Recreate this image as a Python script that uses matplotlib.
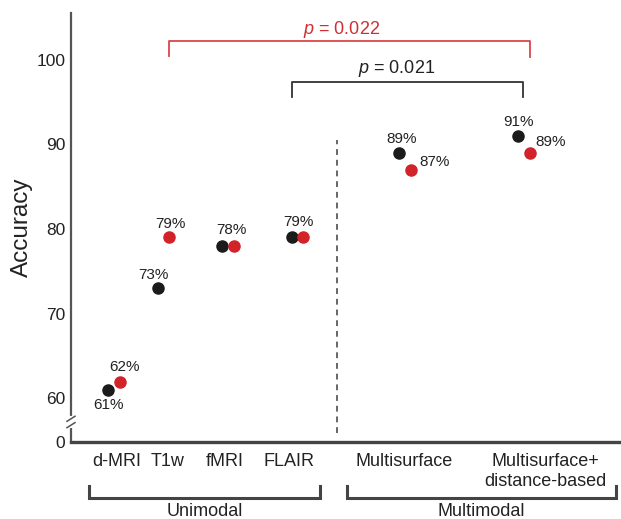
import matplotlib
matplotlib.use("Agg")
import matplotlib.pyplot as plt

plt.rcParams["font.family"] = ["Liberation Sans", "DejaVu Sans"]
plt.rcParams["mathtext.fontset"] = "custom"
plt.rcParams["mathtext.it"] = "Liberation Sans:italic"
plt.rcParams["mathtext.rm"] = "Liberation Sans"

# data
methods = ["d-MRI", "T1w", "fMRI", "FLAIR", "Multisurface", "Multisurface+\ndistance-based"]
acc_black = [61, 73, 78, 79, 89, 91]
acc_red = [62, 79, 78, 79, 87, 89]
groups = ["Unimodal", "Multimodal"]
p_labels = ["0.022", "0.021"]

# layout (x in pixel-like units from the y axis)
x_black = [37, 87, 151, 221, 328, 447]
x_red = [49, 98, 163, 232, 340, 459]
x_ticks = [46, 97, 154, 218, 333, 474]

BLACK = "#1b1b1b"
RED = "#d2222a"
TXT = "#222222"

fig = plt.figure(figsize=(6.21, 5.19), dpi=100)
ax = fig.add_axes([71 / 621, 77 / 519, 550 / 621, 429 / 519])

y_bot = 54.86
ax.set_xlim(0, 550)
ax.set_ylim(y_bot, 105.5)

ax.plot(x_black, acc_black, "o", color=BLACK, ms=8, zorder=3)
ax.plot(x_red, acc_red, "o", color=RED, ms=8, zorder=3)

# percentage labels: (series, index, dx, dy) offsets in points
pct = [
    ("k", 0, 0, -10.8), ("r", 0, 3.6, 10.8),
    ("k", 1, -3.6, 9.4), ("r", 1, 0.7, 10),
    ("k", 2, 6.5, 11.5), ("k", 3, 4.3, 11.5),
    ("k", 4, 2.2, 10), ("r", 4, 17.3, 5.8),
    ("k", 5, 0.5, 10), ("r", 5, 15, 8),
]
for s, i, dx, dy in pct:
    xs, ys = (x_black, acc_black) if s == "k" else (x_red, acc_red)
    ax.annotate(f"{ys[i]}%", (xs[i], ys[i]), xytext=(dx, dy),
                textcoords="offset points", ha="center", va="center",
                fontsize=11, color=TXT)

# axes styling
for sp in ["top", "right"]:
    ax.spines[sp].set_visible(False)
ax.spines["left"].set_color("#555555")
ax.spines["left"].set_linewidth(1.6)
ax.spines["bottom"].set_color("#444444")
ax.spines["bottom"].set_linewidth(2.4)

ax.set_yticks([y_bot, 60, 70, 80, 90, 100])
ax.set_yticklabels(["0", "60", "70", "80", "90", "100"])
ax.set_xticks(x_ticks)
ax.set_xticklabels(methods)
ax.tick_params(axis="y", length=0, pad=4, labelsize=12.5, labelcolor=TXT)
ax.tick_params(axis="x", length=0, pad=8, labelsize=13, labelcolor=TXT)
ax.set_ylabel("Accuracy", fontsize=17.5, color=TXT, va="center")
ax.yaxis.set_label_coords(-49 / 550, 0.5)

# axis break
px = 1 / 550
ax.plot([0, 0], [56.75, 57.7], color="white", lw=3, transform=ax.get_yaxis_transform(),
        clip_on=False, zorder=4)
for yb in [56.85, 57.6]:
    ax.plot([-4 * px, 4 * px], [yb - 0.3, yb + 0.3], color="#555555", lw=1.1,
            transform=ax.get_yaxis_transform(), clip_on=False, zorder=5)

# dashed divider
ax.plot([266, 266], [55.9, 90.5], ls=(0, (3, 2.5)), color="#666666", lw=1.4)

# significance brackets
ax.plot([x_red[1], x_red[1], x_red[5], x_red[5]], [100.4, 102.2, 102.2, 100.3],
        color="#d8474a", lw=1.3, clip_on=False)
ax.text(271, 103.5, f"$p$ = {p_labels[0]}", color="#cf2f33", fontsize=13,
        ha="center", va="center")
ax.plot([x_black[3], x_black[3], 452, 452], [95.6, 97.4, 97.4, 95.6],
        color="#333333", lw=1.3, clip_on=False)
ax.text(326, 98.9, f"$p$ = {p_labels[1]}", color=TXT, fontsize=13,
        ha="center", va="center")

# group brackets below the axis
for (x0, x1), name in zip([(18, 249), (276, 545)], groups):
    ax.plot([x0, x0, x1, x1], [49.67, 48.25, 48.25, 49.67], color="#444444",
            lw=2.2, clip_on=False, solid_joinstyle="miter")
    ax.text((x0 + x1) / 2, 46.7, name, fontsize=13, color=TXT,
            ha="center", va="center")

fig.savefig("out.png", dpi=100)
